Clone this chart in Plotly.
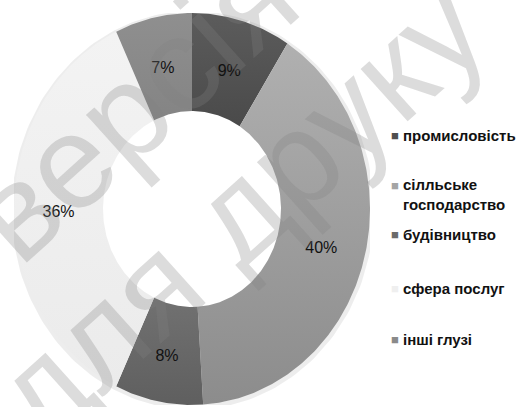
import numpy as np
import plotly.graph_objects as go

# ---- data ----
categories = ["промисловість", "сілльське<br>господарство", "будівництво", "сфера послуг", "інші глузі"]
values = [9, 40, 8, 36, 7]
color_top = ["#5c5c5c", "#b0b0b0", "#717171", "#f3f3f3", "#8f8f8f"]
color_bottom = ["#4a4a4a", "#8c8c8c", "#5f5f5f", "#ebebeb", "#848484"]
legend_colors = ["#4f4f4f", "#a5a5a5", "#6b6b6b", "#efefef", "#8a8a8a"]
watermark_lines = ["версія", "для друку"]

# ---- layout constants ----
W, H = 516, 407
cx, cy, rx, ry = 192, 209, 178, 196
hole = 0.5
label_dy = -0.02                           # labels sit slightly low
legend_y = [135, 194, 235, 288, 339]      # text centre (px from top)
legend_sq_y = [135, 185, 235, 288, 339]   # swatch centre
FONT = "Liberation Sans, Arial, sans-serif"

fig = go.Figure()
total = sum(values)
cum = np.concatenate([[0.0], np.cumsum(values)]) / total

# soft outer shadow of the ring
ts = np.linspace(0, 2 * np.pi, 241)
fig.add_trace(go.Scatter(
    x=1.004 * np.sin(ts) + 0.004, y=1.004 * np.cos(ts) - 0.006, mode="lines",
    line=dict(width=5, color="rgba(0,0,0,0.07)"),
    showlegend=False, hoverinfo="skip",
))

for i, v in enumerate(values):
    n = max(int(v * 5), 10)
    t = np.linspace(cum[i], cum[i + 1], n) * 2 * np.pi
    xo, yo = np.sin(t), np.cos(t)
    xi, yi = hole * np.sin(t[::-1]), hole * np.cos(t[::-1])
    xs = np.concatenate([xo, xi, xo[:1]])
    ys = np.concatenate([yo, yi, yo[:1]])
    fig.add_trace(go.Scatter(
        x=xs, y=ys, mode="lines", fill="toself",
        line=dict(width=0, color=color_top[i]),
        fillgradient=dict(type="vertical",
                          colorscale=[[0, color_bottom[i]], [1, color_top[i]]]),
        name=categories[i].replace("<br>", " "),
        showlegend=False, hoverinfo="name",
    ))

mid = (cum[:-1] + cum[1:]) / 2 * 2 * np.pi
rl = (1 + hole) / 2
fig.add_trace(go.Scatter(
    x=rl * np.sin(mid), y=rl * np.cos(mid) + label_dy, mode="text",
    text=[f"{v}%" for v in values],
    textfont=dict(family=FONT, size=16, color="#111111"),
    showlegend=False, hoverinfo="skip", cliponaxis=False,
))

annotations = []
# watermark
wm_pos = [(132, 106), (238, 212)]
for txt, (px, py) in zip(watermark_lines, wm_pos):
    annotations.append(dict(
        text=txt, x=px / W, y=1 - py / H, xref="paper", yref="paper",
        xanchor="center", yanchor="middle", showarrow=False, textangle=-42,
        font=dict(family=FONT, size=133, color="rgba(128,128,128,0.28)"),
    ))
# legend
for i, cat in enumerate(categories):
    annotations.append(dict(
        text="■", x=389 / W, y=1 - legend_sq_y[i] / H, xref="paper", yref="paper",
        xanchor="left", yanchor="middle", showarrow=False,
        font=dict(family=FONT, size=13, color=legend_colors[i]),
    ))
    annotations.append(dict(
        text=cat, x=401 / W, y=1 - legend_y[i] / H, xref="paper", yref="paper",
        xanchor="left", yanchor="middle", showarrow=False, align="left",
        font=dict(family=FONT, size=15, color="#111111", weight="bold"),
    ))

fig.update_layout(
    width=W, height=H, margin=dict(l=0, r=0, t=0, b=0),
    paper_bgcolor="white", plot_bgcolor="white",
    xaxis=dict(range=[-1, 1], visible=False,
               domain=[(cx - rx) / W, (cx + rx) / W]),
    yaxis=dict(range=[-1, 1], visible=False,
               domain=[1 - (cy + ry) / H, 1 - (cy - ry) / H]),
    annotations=annotations,
    showlegend=False,
)

fig.write_html("out.html", config={"displayModeBar": False},
               post_script="document.body.style.margin='0';")
